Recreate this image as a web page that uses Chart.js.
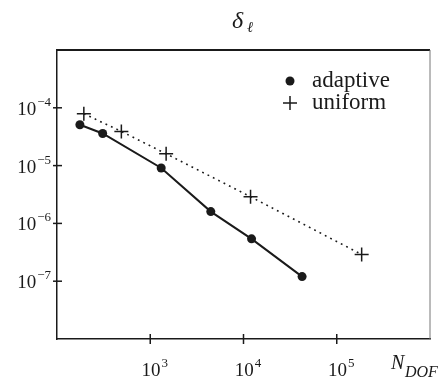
<!DOCTYPE html>
<html>
<head>
<meta charset="utf-8">
<script src="https://cdn.jsdelivr.net/npm/chart.js@4"></script>
<style>
  html, body { margin: 0; padding: 0; background: #fff; }
</style>
</head>
<body>
<canvas id="errChart" width="445" height="383"></canvas>
<script>
// values (log-log)
const adaptiveN = [176, 309, 1310, 4460, 12200, 42500];
const adaptiveErr = [5.1e-5, 3.6e-5, 9.1e-6, 1.6e-6, 5.4e-7, 1.2e-7];
const uniformN = [194, 490, 1480, 11900, 185000];
const uniformErr = [7.9e-5, 3.9e-5, 1.6e-5, 2.9e-6, 2.9e-7];
const xTicks = [1e3, 1e4, 1e5];
const yTicks = [1e-4, 1e-5, 1e-6, 1e-7];
const legendLabels = ["adaptive", "uniform"];

const serif = '"Liberation Serif", "DejaVu Serif", serif';
const ink = "#1a1a1a";

function toPoints(xs, ys) {
    return xs.map((x, i) => ({ x: x, y: ys[i] }));
}

function drawPow(ctx, exp, x, y, align) {
    let base = "10";
    let e = (exp < 0 ? "\u2212" : "") + Math.abs(exp);
    ctx.font = "19px " + serif;
    let wb = ctx.measureText(base).width;
    ctx.font = "13px " + serif;
    let we = ctx.measureText(e).width;
    let x0 = align === "right" ? x - wb - we - 1 : x - (wb + we) / 2 + 4;
    ctx.textBaseline = "alphabetic";
    ctx.textAlign = "left";
    ctx.font = "19px " + serif;
    ctx.fillText(base, x0, y);
    ctx.font = "13px " + serif;
    ctx.fillText(e, x0 + wb + 1, y - 9);
}

const decorPlugin = {
    id: "decor",
    afterDraw(chart) {
        const ctx = chart.ctx;
        const a = chart.chartArea;
        const xs = chart.scales.x;
        const ys = chart.scales.y;
        ctx.save();
        ctx.fillStyle = ink;
        ctx.strokeStyle = ink;

        // top and right frame
        ctx.lineWidth = 2;
        ctx.beginPath();
        ctx.moveTo(a.left, a.top);
        ctx.lineTo(a.right, a.top);
        ctx.stroke();
        ctx.strokeStyle = "#777";
        ctx.lineWidth = 1;
        ctx.beginPath();
        ctx.moveTo(a.right, a.top);
        ctx.lineTo(a.right, a.bottom);
        ctx.stroke();

        // tick marks crossing the axes
        ctx.strokeStyle = ink;
        ctx.lineWidth = 1.5;
        xTicks.forEach(v => {
            let px = xs.getPixelForValue(v);
            ctx.beginPath();
            ctx.moveTo(px, a.bottom - 5);
            ctx.lineTo(px, a.bottom + 5);
            ctx.stroke();
            drawPow(ctx, Math.round(Math.log10(v)), px, a.bottom + 37, "center");
        });
        yTicks.forEach(v => {
            let py = ys.getPixelForValue(v);
            ctx.beginPath();
            ctx.moveTo(a.left - 4, py);
            ctx.lineTo(a.left + 5, py);
            ctx.stroke();
            drawPow(ctx, Math.round(Math.log10(v)), a.left - 6, py + 7, "right");
        });

        // title
        ctx.textAlign = "left";
        ctx.font = "italic 24px " + serif;
        ctx.fillText("\u03b4", 232, 28);
        ctx.font = 'italic 15px "DejaVu Serif", serif';
        ctx.fillText("\u2113", 247, 32);

        // x axis title
        ctx.font = "italic 20px " + serif;
        ctx.fillText("N", 391, 369);
        ctx.font = "italic 16px " + serif;
        ctx.fillText("DOF", 405, 377);

        // legend
        const ds = chart.data.datasets;
        ctx.font = "23px " + serif;
        ctx.textBaseline = "middle";
        ds.forEach((d, i) => {
            let lx = a.left + 233;
            let ly = a.top + 31 + i * 22;
            Chart.helpers.drawPoint(ctx, {
                pointStyle: d.pointStyle,
                radius: d.pointRadius,
                rotation: 0,
                borderWidth: d.pointBorderWidth
            }, lx, ly);
            ctx.fillStyle = ink;
            ctx.fillText(legendLabels[i], lx + 22, ly);
        });
        ctx.restore();
    }
};

new Chart(document.getElementById("errChart"), {
    type: "line",
    data: {
        datasets: [
            {
                label: legendLabels[0],
                data: toPoints(adaptiveN, adaptiveErr),
                borderColor: ink,
                backgroundColor: ink,
                borderWidth: 2,
                pointStyle: "circle",
                pointRadius: 4.5,
                pointBorderWidth: 0,
                pointBackgroundColor: ink,
                pointBorderColor: ink
            },
            {
                label: legendLabels[1],
                data: toPoints(uniformN, uniformErr),
                borderColor: ink,
                borderWidth: 1.6,
                borderDash: [1.8, 4.2],
                pointStyle: "cross",
                pointRadius: 7,
                pointBorderWidth: 1.5,
                pointBorderColor: ink
            }
        ]
    },
    options: {
        responsive: false,
        animation: false,
        devicePixelRatio: 1,
        layout: { padding: { top: 50, right: 15, left: 0, bottom: 0 } },
        plugins: {
            legend: { display: false },
            title: { display: false },
            tooltip: { enabled: false }
        },
        scales: {
            x: {
                type: "logarithmic",
                min: 1e2,
                max: 1e6,
                afterBuildTicks: s => { s.ticks = xTicks.map(v => ({ value: v })); },
                afterFit: s => { s.height = 44; },
                ticks: { display: false },
                grid: { display: false },
                border: { color: ink, width: 1.5 }
            },
            y: {
                type: "logarithmic",
                min: 1e-8,
                max: 1e-3,
                afterBuildTicks: s => { s.ticks = yTicks.map(v => ({ value: v })); },
                afterFit: s => { s.width = 57; },
                ticks: { display: false },
                grid: { display: false },
                border: { color: ink, width: 1.5 }
            }
        }
    },
    plugins: [decorPlugin]
});
</script>
</body>
</html>
